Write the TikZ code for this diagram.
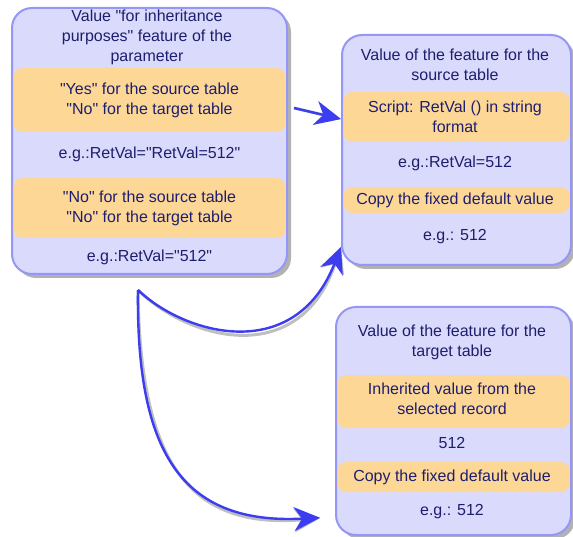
\documentclass[tikz,border=0pt]{standalone}
\usepackage{fontspec}
\setmainfont{Liberation Sans}
\newfontfamily\lblfont{Liberation Sans}
\usetikzlibrary{arrows.meta,shadows}
\definecolor{boxfill}{RGB}{218,218,252}
\definecolor{boxline}{RGB}{150,150,245}
\definecolor{bandcol}{RGB}{252,215,150}
\definecolor{txt}{RGB}{30,30,110}
\definecolor{arr}{RGB}{60,60,240}
\begin{document}
\begin{tikzpicture}[x=1pt,y=-1pt,
  panel/.style={draw=boxline, line width=2pt, fill=boxfill, rounded corners=20pt,
    drop shadow={shadow xshift=4pt, shadow yshift=-4pt, fill=black, opacity=0.3}, inner sep=0pt},
  bandbox/.style={fill=bandcol, rounded corners=9pt, inner sep=0pt},
  lbl/.style={text=txt, font=\lblfont\fontsize{16}{20}\selectfont, align=center, inner sep=0pt},
  tip/.style={-{Stealth[length=26pt,width=24pt,inset=8pt]}},
  conn/.style={draw=arr, line width=2.4pt, tip},
  connshadow/.style={draw=black, opacity=0.25, line width=3pt, tip, xshift=4pt, yshift=-5pt}]
\useasboundingbox (0,0) rectangle (573,537);
% boxes
\node[panel, minimum width=275pt, minimum height=266pt] (b1) at (149.5,141) {};
\node[panel, minimum width=229pt, minimum height=230pt] (b2) at (456.5,150) {};
\node[panel, minimum width=235pt, minimum height=228pt] (b3) at (453.5,421) {};
% bands
\node[bandbox, minimum width=272pt, minimum height=64pt] (b1a) at (149.5,100) {};
\node[bandbox, minimum width=272pt, minimum height=60pt] (b1b) at (149.5,208) {};
\node[bandbox, minimum width=226pt, minimum height=50pt] (b2a) at (456.5,117) {};
\node[bandbox, minimum width=226pt, minimum height=26pt] (b2b) at (456.5,200) {};
\node[bandbox, minimum width=232pt, minimum height=53pt] (b3a) at (453.5,401.5) {};
\node[bandbox, minimum width=232pt, minimum height=30pt] (b3b) at (453.5,477) {};
% texts box 1
\node[lbl] (t11) at (147,37) {Value "for inheritance\\purposes" feature of the\\parameter};
\node[lbl] (t12) at (149.5,100.5) {"Yes" for the source table\\"No" for the target table};
\node[lbl] (t13) at (149.5,154) {e.g.:RetVal="RetVal=512"};
\node[lbl] (t14) at (149.5,208) {"No" for the source table\\"No" for the target table};
\node[lbl] (t15) at (149.5,257) {e.g.:RetVal="512"};
% texts box 2
\node[lbl] (t21) at (455,65) {Value of the feature for the\\source table};
\node[lbl] (t22) at (455,117) {Script: RetVal () in string\\format};
\node[lbl] (t23) at (455,163) {e.g.:RetVal=512};
\node[lbl] (t24) at (455,200) {Copy the fixed default value};
\node[lbl] (t25) at (455,237) {e.g.: 512};
% texts box 3
\node[lbl] (t31) at (452,342) {Value of the feature for the\\target table};
\node[lbl] (t32) at (452,399) {Inherited value from the\\selected record};
\node[lbl] (t33) at (452,443) {512};
\node[lbl] (t34) at (452,477) {Copy the fixed default value};
\node[lbl] (t35) at (452,512) {e.g.: 512};
% connectors
\coordinate (a1s) at (294,108);
\coordinate (s) at (138,290);
\draw[connshadow] (a1s) -- (b2.165);
\draw[conn] (a1s) -- (b2.165);
\draw[connshadow] (s) .. controls (185,335) and (295,365) .. (b2.220);
\draw[conn] (s) .. controls (185,335) and (295,365) .. (b2.220);
\draw[connshadow, shorten >=15pt] (s) .. controls (136,450) and (180,525) .. (b3.219);
\draw[conn, shorten >=15pt] (s) .. controls (136,450) and (180,525) .. (b3.219);
\end{tikzpicture}
\end{document}
